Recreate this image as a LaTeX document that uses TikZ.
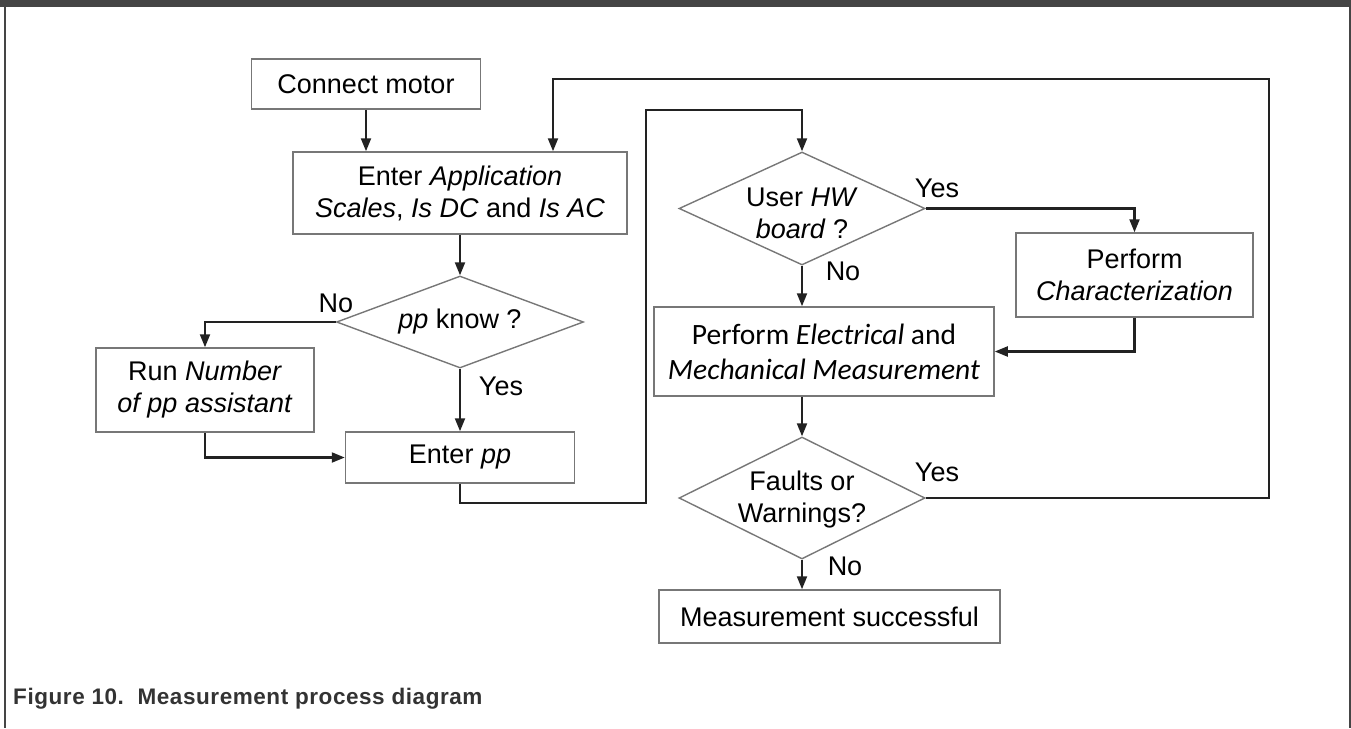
\documentclass[tikz,border=0pt]{standalone}
\usepackage{fontspec}
\setmainfont{Liberation Sans}
\newfontfamily\calfont{Carlito}
\usetikzlibrary{arrows.meta,shapes.geometric}
\definecolor{boxline}{HTML}{777777}
\definecolor{wirecol}{HTML}{222222}
\definecolor{framegray}{HTML}{454545}
\definecolor{capgray}{HTML}{333333}
\begin{document}
\begin{tikzpicture}[x=1pt,y=-1pt,
  box/.style={draw=boxline, line width=1.5pt, fill=white, inner sep=0pt,
    align=center, font=\fontsize{27}{32}\selectfont, text=black},
  decision/.style={diamond, draw=boxline, line width=1.4pt, inner sep=0pt},
  dtext/.style={align=center, font=\fontsize{27}{32}\selectfont},
  lbl/.style={font=\fontsize{27}{32}\selectfont},
  flow/.style={draw=wirecol, line width=2.1pt, -{Triangle[length=13pt,width=10pt]}}
]
\useasboundingbox (0,0) rectangle (1351,728);

% frame
\fill[framegray] (0,0) rectangle (1351,7);
\draw[framegray, line width=2pt] (4.5,0) -- (4.5,728);
\draw[framegray, line width=2pt] (1349.5,0) -- (1349.5,728);

% process steps
\node[box, minimum width=229pt, minimum height=50pt] (connect) at (366,84) {Connect motor};
\node[box, minimum width=334pt, minimum height=82pt] (app) at (460,193)
  {Enter \textit{Application}\\\textit{Scales}, \textit{Is DC} and \textit{Is AC}};
\node[decision, minimum width=247pt, minimum height=92pt] (pp) at (460,322) {};
\node[dtext] (pptxt) at (pp) {\textit{pp} know ?};
\node[box, minimum width=218pt, minimum height=84pt] (run) at (205,390)
  {Run \textit{Number}\\\textit{of pp assistant}};
\node[box, minimum width=229pt, minimum height=51pt] (enterpp) at (460,457.5) {Enter \textit{pp}};
\node[decision, minimum width=246pt, minimum height=113pt] (hw) at (802,208.5) {};
\node[dtext] (hwtxt) at (802,213) {User \textit{HW}\\\textit{board} ?};
\node[box, minimum width=237pt, minimum height=84pt] (char) at (1134.5,275)
  {Perform\\\textit{Characterization}};
\node[box, minimum width=340pt, minimum height=89pt,
  font=\calfont\fontsize{29.5}{35}\selectfont] (meas) at (824,351.5)
  {Perform \textit{Electrical} and\\\textit{Mechanical Measurement}};
\node[decision, minimum width=246pt, minimum height=122pt] (faults) at (802,498) {};
\node[dtext] (faultstxt) at (802,500) {Faults or\\Warnings?};
\node[box, minimum width=341pt, minimum height=53pt] (done) at (829.5,616.5)
  {Measurement successful};

% routing points
\coordinate (j1) at (646,503);
\coordinate (j2) at (646,110);
\coordinate (loopR) at (1269,79);
\coordinate (loopL) at (553,79);

% connectors
\draw[flow] (connect.south) -- (connect.south |- app.north);
\draw[flow] (app.south) -- (pp.north);
\draw[flow] (pp.west) -| (run.north);
\draw[flow] (pp.south) -- (enterpp.north);
\draw[flow] (run.south) |- (enterpp.west);
\draw[flow] (enterpp.south) |- (j1) -- (j2) -| (hw.north);
\draw[flow] (hw.east) -| (char.north);
\draw[flow] (hw.south) -- (hw.south |- meas.north);
\draw[flow] (char.south) |- (meas.east);
\draw[flow] (hw.south |- meas.south) -- (faults.north);
\draw[flow] (faults.south) -- (faults.south |- done.north);
\draw[flow] (faults.east) -| (loopR) -- (loopL) -- (loopL |- app.north);

% branch labels
\node[lbl] (ppno) at (336,303) {No};
\node[lbl] (ppyes) at (501,386) {Yes};
\node[lbl] (hwyes) at (937,188) {Yes};
\node[lbl] (hwno) at (843,271) {No};
\node[lbl] (fyes) at (937,472) {Yes};
\node[lbl] (fno) at (845,566) {No};

% caption
\node[anchor=base west, inner sep=0pt, text=capgray,
  font=\bfseries\fontsize{22.5}{26}\selectfont\addfontfeature{LetterSpace=2.5}]
  (caption) at (13,704) {Figure 10.\ \ Measurement process diagram};
\end{tikzpicture}
\end{document}
